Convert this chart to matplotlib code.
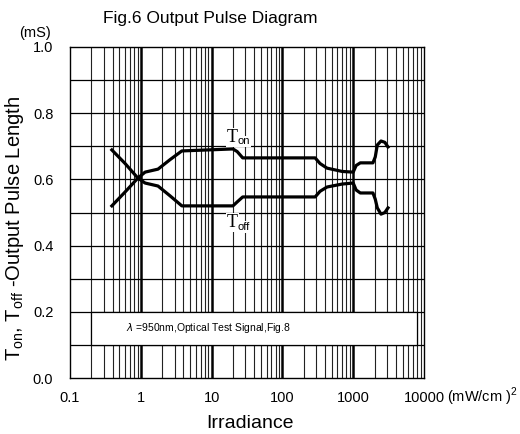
import numpy as np
import matplotlib
matplotlib.use("Agg")
import matplotlib.pyplot as plt
from matplotlib.patches import Rectangle

plt.rcParams['font.family'] = ['Liberation Sans', 'DejaVu Sans']
plt.rcParams['mathtext.fontset'] = 'custom'
plt.rcParams['mathtext.rm'] = 'Liberation Sans'

x_on = [0.39, 0.6, 0.91, 1.15, 1.75, 2.6, 3.8, 20, 23, 27.5, 290, 340, 427, 700, 1000, 1100, 1260, 1900, 2050, 2190, 2470, 2800, 3100]
t_on = [0.689, 0.648, 0.604, 0.622, 0.631, 0.66, 0.686, 0.692, 0.684, 0.665, 0.665, 0.648, 0.634, 0.624, 0.622, 0.642, 0.65, 0.65, 0.668, 0.704, 0.716, 0.712, 0.698]

x_off = [0.39, 0.6, 0.91, 1.15, 1.75, 2.6, 3.8, 20, 23, 27.5, 290, 340, 427, 700, 1000, 1100, 1260, 1900, 2050, 2190, 2470, 2800, 3100]
t_off = [0.52, 0.562, 0.604, 0.589, 0.58, 0.55, 0.52, 0.52, 0.532, 0.547, 0.547, 0.564, 0.577, 0.586, 0.589, 0.568, 0.559, 0.559, 0.54, 0.514, 0.495, 0.5, 0.514]

x_ticks = [0.1, 1, 10, 100, 1000, 10000]
x_labels = ['0.1', '1', '10', '100', '1000', '10000']
y_ticks = [0.0, 0.2, 0.4, 0.6, 0.8, 1.0]

fig = plt.figure(figsize=(5.2, 4.34), dpi=100)
ax = fig.add_axes([70 / 520, 1 - 378 / 434, 354 / 520, 331 / 434])
ax.set_xscale('log')
ax.set_xlim(0.1, 10000)
ax.set_ylim(0, 1.0)

# grid by hand
for dec in [0.1, 1, 10, 100, 1000]:
    for k in range(2, 10):
        ax.axvline(dec * k, color='#222222', lw=0.8, zorder=1)
    if dec > 0.1:
        ax.axvline(dec, color='black', lw=1.8, zorder=1)
for yv in np.arange(0.1, 1.0, 0.1):
    ax.axhline(yv, color='black', lw=0.9, zorder=1)

ax.add_patch(Rectangle((0.2, 0.1), 8000 - 0.2, 0.1, facecolor='white',
                       edgecolor='black', lw=0.9, zorder=2))
ax.text(0.62, 0.15, r'$\lambda$ =950nm,Optical Test Signal,Fig.8', fontsize=7.5,
        va='center', ha='left', zorder=3)

ax.plot(x_on, t_on, color='black', lw=2.3, zorder=4, solid_joinstyle='round')
ax.plot(x_off, t_off, color='black', lw=2.3, zorder=4, solid_joinstyle='round')

bb = dict(facecolor='white', edgecolor='none', pad=0.5)
ax.text(16.5, 0.727, 'T', family='Liberation Serif', fontsize=13, va='center', ha='left', bbox=bb, zorder=5)
ax.text(23.5, 0.715, 'on', fontsize=8, va='center', ha='left', bbox=bb, zorder=5)
ax.text(16.5, 0.470, 'T', family='Liberation Serif', fontsize=13, va='center', ha='left', bbox=bb, zorder=5)
ax.text(23.5, 0.456, 'off', fontsize=8, va='center', ha='left', bbox=bb, zorder=5)

ax.set_xticks(x_ticks)
ax.set_xticklabels(x_labels, fontsize=10.5)
ax.set_xticks([], minor=True)
ax.set_yticks(y_ticks)
ax.set_yticklabels(['%.1f' % v for v in y_ticks], fontsize=10.5)
ax.tick_params(length=0, pad=9)
ax.tick_params(axis='y', pad=12)
for s in ax.spines.values():
    s.set_linewidth(1.0)

fig.text(250 / 520, 1 - 423 / 434, 'Irradiance', fontsize=14, ha='center', va='center')
fig.text(15 / 520, 1 - 228 / 434, r'T$_{\rm on}$, T$_{\rm off}$ -Output Pulse Length',
         fontsize=14.5, rotation=90, ha='center', va='center')

fig.text(210 / 520, 1 - 18 / 434, 'Fig.6 Output Pulse Diagram', fontsize=12.5, ha='center', va='center')
fig.text(35 / 520, 1 - 33 / 434, '(mS)', fontsize=10.5, ha='center', va='center')
fig.text(447 / 520, 1 - 397 / 434, r'(mW/cm )$^2$', fontsize=10.5, ha='left', va='center')

fig.savefig('out.png', dpi=100)
